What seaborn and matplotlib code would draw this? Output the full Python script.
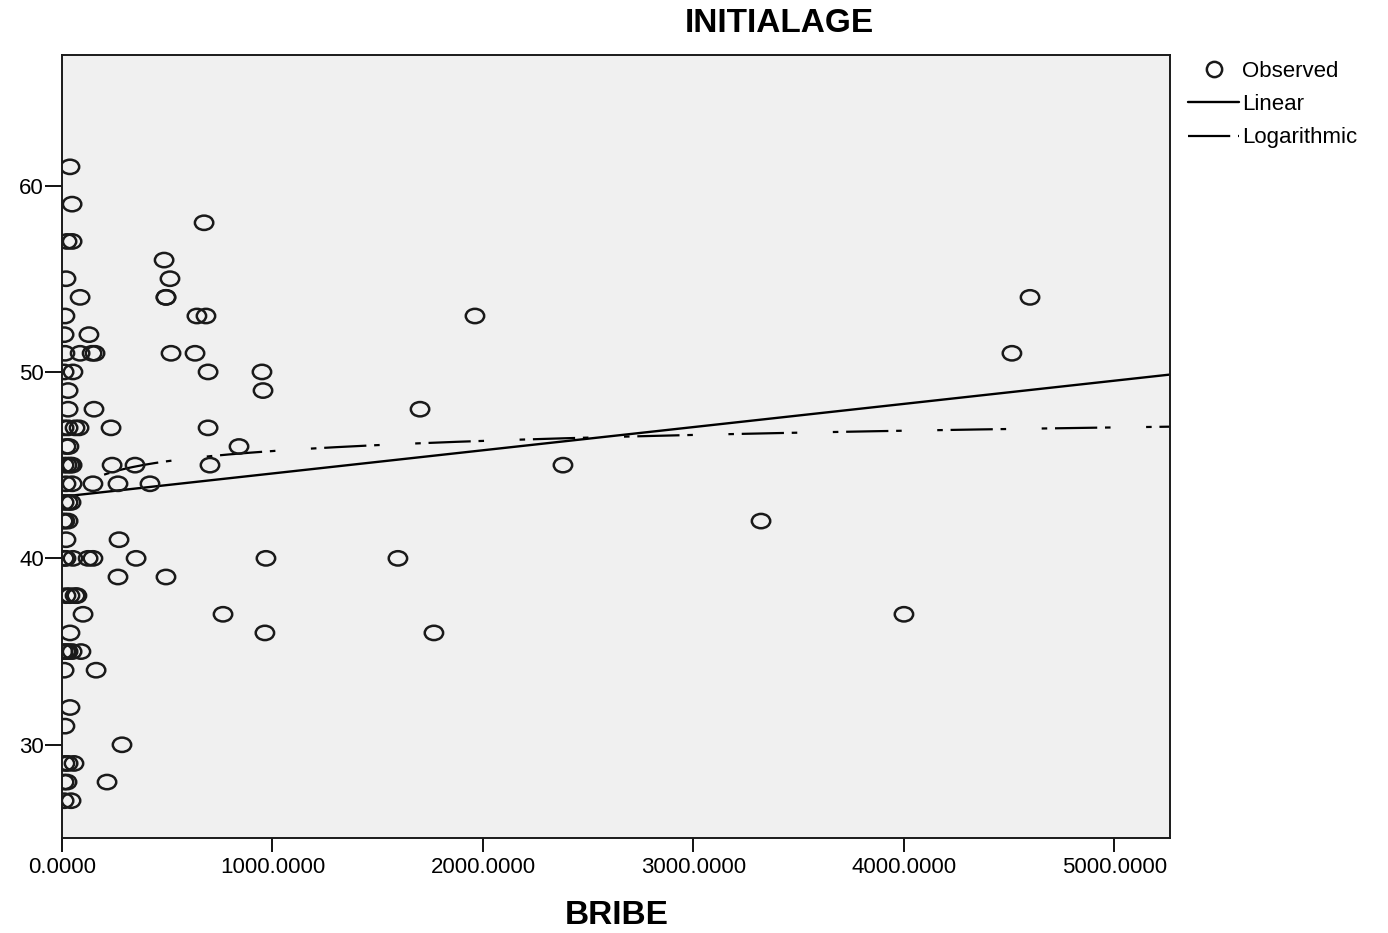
import numpy as np
import matplotlib
matplotlib.use("Agg")
import matplotlib.pyplot as plt
from matplotlib.path import Path
from matplotlib.lines import Line2D
import seaborn as sns

# observed cases (BRIBE, INITIALAGE)
bribe = [38, 48, 24, 48, 19, 513,
         86, 494, 4599,
         14, 641, 684, 1962,
         10, 128,
         14, 86, 143, 157, 518, 632, 4513,
         10, 52, 694, 950,
         29, 955,
         29, 152, 1701,
         10, 29, 62, 81, 233, 694,
         19, 33, 841,
         10, 24, 38, 48, 238, 347, 703, 2380,
         19, 48, 147, 266, 418,
         10, 29, 43,
         5, 14, 29, 3321,
         19, 271,
         10, 19, 52, 124, 147, 352, 969, 1596,
         266, 494,
         19, 38, 62, 71,
         100, 765, 4000,
         38, 964, 1767,
         5, 19, 29, 48, 90,
         10, 162,
         38, 14, 285,
         14, 29, 57,
         10, 24, 214,
         10, 43,
         675, 485, 494]
initial_age = [61, 59, 57, 57, 55, 55,
               54, 54, 54,
               53, 53, 53, 53,
               52, 52,
               51, 51, 51, 51, 51, 51, 51,
               50, 50, 50, 50,
               49, 49,
               48, 48, 48,
               47, 47, 47, 47, 47, 47,
               46, 46, 46,
               45, 45, 45, 45, 45, 45, 45, 45,
               44, 44, 44, 44, 44,
               43, 43, 43,
               42, 42, 42, 42,
               41, 41,
               40, 40, 40, 40, 40, 40, 40, 40,
               39, 39,
               38, 38, 38, 38,
               37, 37, 37,
               36, 36, 36,
               35, 35, 35, 35, 35,
               34, 34,
               32, 31, 30,
               29, 29, 29,
               28, 28, 28,
               27, 27,
               58, 56, 54]

# fitted curves (coefficients)
linear_b0, linear_b1 = 43.31, 0.001244
log_b0, log_b1 = 40.32, 0.787
x_max = 5264
log_x_start = 200

x_ticks = [0, 1000, 2000, 3000, 4000, 5000]
y_ticks = [30, 40, 50, 60]

sns.set_style("white")
plt.rcParams['font.family'] = ['Liberation Sans', 'DejaVu Sans']
plt.rcParams['text.color'] = 'black'
plt.rcParams['xtick.color'] = 'black'
plt.rcParams['ytick.color'] = 'black'

fig = plt.figure(figsize=(13.88, 9.33), dpi=100)
ax = fig.add_axes([62 / 1388, 95 / 933, 1108 / 1388, 783 / 933])
ax.set_facecolor('#f0f0f0')

circ = Path.unit_circle()
ellipse = Path(circ.vertices * np.array([1.0, 0.78]), circ.codes)

sns.scatterplot(x=bribe, y=initial_age, ax=ax, marker=ellipse, s=175,
                facecolor='none', edgecolor='#1a1a1a', linewidth=1.8, zorder=3)

lin_x = np.array([0, x_max])
sns.lineplot(x=lin_x, y=linear_b0 + linear_b1 * lin_x, ax=ax, color='black', lw=1.7)

log_x = np.linspace(log_x_start, x_max, 300)
log_style = (0, (2.5, 3.5, 19, 3.5, 2.5, 16))
ax.plot(log_x, log_b0 + log_b1 * np.log(log_x), color='black', lw=1.6, linestyle=log_style)

ax.set_xlim(0, x_max)
ax.set_ylim(25, 67)
ax.set_xticks(x_ticks)
ax.set_xticklabels(['{:.4f}'.format(v) for v in x_ticks])
ax.set_yticks(y_ticks)
ax.tick_params(axis='x', direction='out', length=10, width=1.3, pad=4, labelsize=16, bottom=True)
ax.tick_params(axis='y', direction='out', length=12, width=1.3, pad=1, labelsize=16, left=True)
for s in ax.spines.values():
    s.set_color('#1a1a1a')
    s.set_linewidth(1.4)
ax.set_xlabel('')
ax.set_ylabel('')

fig.text(779 / 1388, 1 - 23 / 933, 'INITIALAGE', ha='center', va='center',
         fontsize=24, fontweight='bold')
fig.text(617 / 1388, 1 - 915 / 933, 'BRIBE', ha='center', va='center',
         fontsize=24, fontweight='bold')

handles = [
    Line2D([], [], marker='o', markersize=11, markerfacecolor='none',
           markeredgecolor='#1a1a1a', markeredgewidth=1.8, linestyle='none'),
    Line2D([], [], color='black', lw=1.7),
    Line2D([], [], color='black', lw=1.6, linestyle=(0, (19, 3.5, 2.5, 16))),
]
ax.legend(handles, ['Observed', 'Linear', 'Logarithmic'], loc='upper left',
          bbox_to_anchor=(1188 / 1388, 1 - 61 / 933), bbox_transform=fig.transFigure,
          frameon=False, fontsize=16, handlelength=2.3, handletextpad=0.15,
          labelspacing=0.55, borderaxespad=0, borderpad=0)

plt.savefig('out.png', dpi=100)
plt.close()
